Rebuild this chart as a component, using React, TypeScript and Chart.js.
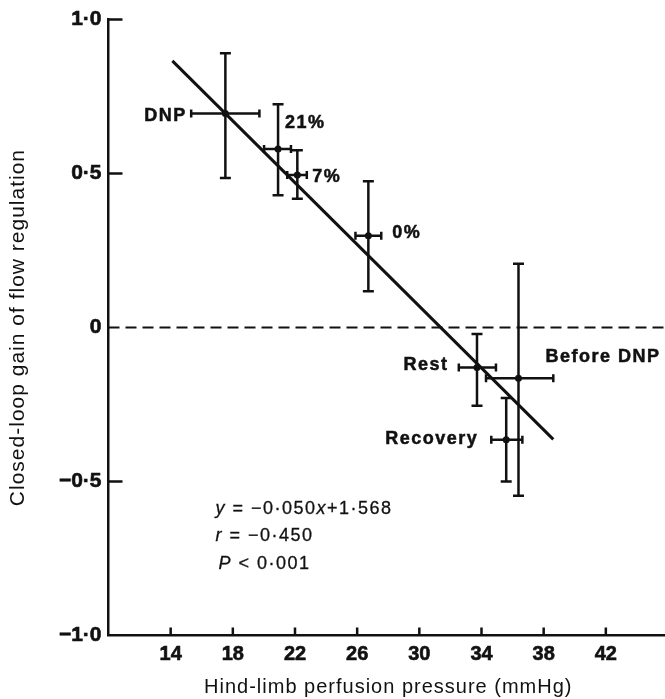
import React, { useEffect, useRef } from "react";
import { Chart, registerables } from "chart.js";

Chart.register(...registerables);

// ---------- data ----------
const pointNames = ["DNP", "21%", "7%", "0%", "Rest", "Before DNP", "Recovery"];
const pressure = [17.52, 20.91, 22.15, 26.72, 33.71, 36.38, 35.59];
const pressureLow = [15.32, 20.01, 21.5, 25.89, 32.54, 34.29, 34.63];
const pressureHigh = [19.71, 21.74, 22.76, 27.55, 34.93, 38.62, 36.63];
const gain = [0.695, 0.58, 0.495, 0.298, -0.13, -0.165, -0.364];
const gainLow = [0.486, 0.43, 0.418, 0.118, -0.254, -0.546, -0.5];
const gainHigh = [0.891, 0.725, 0.576, 0.475, -0.021, 0.207, -0.229];

const fitX = [14.11, 38.62];
const fitY = [0.866, -0.363];
const zeroX = [10, 46];
const zeroY = [0, 0];

const xTickValues = [14, 18, 22, 26, 30, 34, 38, 42];
const yTickValues = [-1, -0.5, 0, 0.5, 1];
const yTickLabels = ["−1·0", "−0·5", "0", "0·5", "1·0"];

const xTitle = "Hind-limb perfusion pressure (mmHg)";
const yTitle = "Closed-loop gain of flow regulation";

// equation text: [text, italic]
const equationLines: [string, boolean][][] = [
  [["y", true], [" = −0·050", false], ["x", true], ["+1·568", false]],
  [["r", true], [" = −0·450", false]],
  [["P", true], [" < 0·001", false]],
];

// ---------- layout / style ----------
const INK = "#111";
const FONT = "'Liberation Sans', Arial, Helvetica, sans-serif";
const labelLayout = [
  { dx: -40, dy: 3, align: "right" },
  { dx: 7, dy: -26, align: "left" },
  { dx: 15, dy: 1.5, align: "left" },
  { dx: 24, dy: -3, align: "left" },
  { dx: -30, dy: -3, align: "right" },
  { dx: 27, dy: -21, align: "left" },
  { dx: -29.5, dy: -0.5, align: "right" },
];
const equationAnchor = { x: 16.88, y: -0.589 };
const equationLineGap = 27.3;

const spacingPlugin = {
  id: "spacing",
  beforeDraw(chart: any) {
    (chart.ctx as any).letterSpacing = "1px";
  },
  beforeDatasetsDraw(chart: any) {
    (chart.ctx as any).letterSpacing = "0px";
  },
};

const errorBarPlugin = {
  id: "errorBars",
  afterDatasetsDraw(chart: any) {
    const { ctx, scales } = chart;
    const x = scales.x;
    const y = scales.y;
    ctx.save();
    ctx.strokeStyle = INK;
    ctx.lineWidth = 2.5;
    ctx.lineCap = "butt";
    for (let i = 0; i < pressure.length; i++) {
      const px = x.getPixelForValue(pressure[i]);
      const py = y.getPixelForValue(gain[i]);
      const yl = y.getPixelForValue(gainLow[i]);
      const yh = y.getPixelForValue(gainHigh[i]);
      const xl = x.getPixelForValue(pressureLow[i]);
      const xh = x.getPixelForValue(pressureHigh[i]);
      ctx.beginPath();
      ctx.moveTo(px, yl);
      ctx.lineTo(px, yh);
      ctx.moveTo(px - 5.5, yl);
      ctx.lineTo(px + 5.5, yl);
      ctx.moveTo(px - 5.5, yh);
      ctx.lineTo(px + 5.5, yh);
      ctx.moveTo(xl, py);
      ctx.lineTo(xh, py);
      ctx.moveTo(xl, py - 4);
      ctx.lineTo(xl, py + 4);
      ctx.moveTo(xh, py - 4);
      ctx.lineTo(xh, py + 4);
      ctx.stroke();
    }
    ctx.restore();
  },
};

const axisTickPlugin = {
  id: "axisTicks",
  afterDraw(chart: any) {
    const { ctx, scales, chartArea } = chart;
    const x = scales.x;
    const y = scales.y;
    ctx.save();
    ctx.strokeStyle = INK;
    ctx.lineWidth = 2.5;
    ctx.beginPath();
    y.ticks.forEach((t: any, i: number) => {
      if (t.value === 0 || t.value === -1) return;
      const py = y.getPixelForTick(i);
      ctx.moveTo(chartArea.left, py);
      ctx.lineTo(chartArea.left + 14, py);
    });
    x.ticks.forEach((_t: any, i: number) => {
      const px = x.getPixelForTick(i);
      ctx.moveTo(px, chartArea.bottom);
      ctx.lineTo(px, chartArea.bottom - 8);
    });
    ctx.stroke();
    ctx.restore();
  },
};

const annotationPlugin = {
  id: "annotations",
  afterDraw(chart: any) {
    const { ctx, scales } = chart;
    const x = scales.x;
    const y = scales.y;
    ctx.save();
    ctx.fillStyle = INK;
    ctx.strokeStyle = INK;
    ctx.textBaseline = "middle";
    const sp = 1.5;
    (ctx as any).letterSpacing = sp + "px";
    ctx.font = `bold 18px ${FONT}`;
    ctx.lineWidth = 0.5;
    pointNames.forEach((name, i) => {
      const L = labelLayout[i];
      const px = x.getPixelForValue(pressure[i]) + L.dx;
      const py = y.getPixelForValue(gain[i]) + L.dy;
      ctx.textAlign = L.align as CanvasTextAlign;
      const tx = L.align === "right" ? px + sp : px;
      ctx.fillText(name, tx, py);
      ctx.strokeText(name, tx, py);
    });
    // equation block
    (ctx as any).letterSpacing = "1.5px";
    ctx.textAlign = "left";
    ctx.lineWidth = 0.3;
    const ex = x.getPixelForValue(equationAnchor.x);
    const ey = y.getPixelForValue(equationAnchor.y);
    equationLines.forEach((segs, li) => {
      let cx = ex + (li === 2 ? 3 : 0);
      const cy = ey + li * equationLineGap;
      segs.forEach(([text, italic]) => {
        ctx.font = `${italic ? "italic " : ""}18px ${FONT}`;
        ctx.fillText(text, cx, cy);
        ctx.strokeText(text, cx, cy);
        cx += ctx.measureText(text).width;
      });
    });
    ctx.restore();
  },
};

export default function App() {
  const ref = useRef<HTMLCanvasElement | null>(null);

  useEffect(() => {
    if (!ref.current) return;
    const chart = new Chart(ref.current, {
      type: "scatter",
      data: {
        datasets: [
          {
            label: "zero",
            data: zeroX.map((v, i) => ({ x: v, y: zeroY[i] })),
            showLine: true,
            borderColor: INK,
            borderWidth: 2,
            borderDash: [11, 6],
            pointRadius: 0,
          },
          {
            label: "regression",
            data: fitX.map((v, i) => ({ x: v, y: fitY[i] })),
            showLine: true,
            borderColor: INK,
            borderWidth: 3,
            pointRadius: 0,
          },
          {
            label: "means",
            data: pressure.map((v, i) => ({ x: v, y: gain[i] })),
            pointRadius: 3.5,
            pointBackgroundColor: INK,
            pointBorderColor: INK,
            pointBorderWidth: 0,
          },
        ],
      },
      options: {
        animation: false,
        responsive: true,
        maintainAspectRatio: false,
        layout: { padding: { top: 13, right: 1.5, left: 0, bottom: 0 } },
        plugins: { legend: { display: false }, tooltip: { enabled: false } },
        scales: {
          x: {
            type: "linear",
            min: 10,
            max: 46,
            afterBuildTicks: (s: any) => {
              s.ticks = xTickValues.map((v) => ({ value: v }));
            },
            afterFit: (s: any) => {
              s.height = 63.5;
            },
            grid: { display: false, drawTicks: false },
            border: { display: true, color: INK, width: 2.5 },
            ticks: {
              color: INK,
              font: { family: FONT, size: 20, weight: "bold" },
              padding: 7,
              z: 1,
              autoSkip: false,
              maxRotation: 0,
              textStrokeColor: INK,
              textStrokeWidth: 0.6,
              callback: (v: any) => String(v),
            },
            title: {
              display: true,
              text: xTitle,
              color: INK,
              font: { family: FONT, size: 20 },
              padding: { top: 0, bottom: 0 },
            },
          },
          y: {
            type: "linear",
            min: -1,
            max: 1,
            afterBuildTicks: (s: any) => {
              s.ticks = yTickValues.map((v) => ({ value: v }));
            },
            afterFit: (s: any) => {
              s.width = 108.5;
            },
            grid: { display: false, drawTicks: false },
            border: { display: true, color: INK, width: 2.5 },
            ticks: {
              color: INK,
              font: { family: FONT, size: 21, weight: "bold" },
              padding: 7,
              z: 1,
              autoSkip: false,
              textStrokeColor: INK,
              textStrokeWidth: 0.6,
              callback: (v: any) => {
                const k = yTickValues.indexOf(Number(v));
                return k >= 0 ? yTickLabels[k] : "";
              },
            },
            title: {
              display: true,
              text: yTitle,
              color: INK,
              font: { family: FONT, size: 21 },
              padding: { top: 6, bottom: 0 },
            },
          },
        },
      },
      plugins: [spacingPlugin, errorBarPlugin, axisTickPlugin, annotationPlugin],
    });
    return () => chart.destroy();
  }, []);

  return (
    <div
      style={{
        position: "absolute",
        left: 0,
        top: 0,
        width: 665,
        height: 699,
        overflow: "hidden",
        background: "#fff",
      }}
    >
      <div style={{ position: "relative", width: 672, height: 699 }}>
        <canvas ref={ref} />
      </div>
    </div>
  );
}
